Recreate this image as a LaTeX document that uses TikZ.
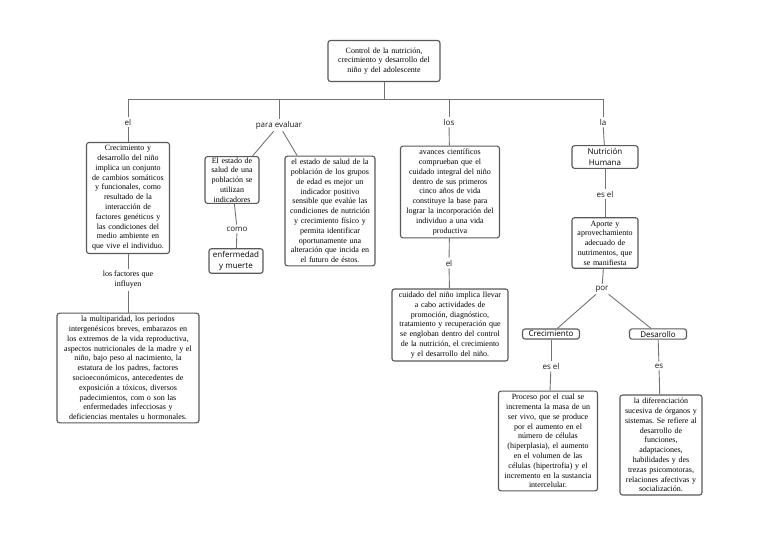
\documentclass[tikz,border=0pt]{standalone}
\usepackage{fontspec}
\setmainfont{Liberation Serif}
\newfontfamily\lblfont{Open Sans}
\frenchspacing
\begin{document}
\begin{tikzpicture}[x=1pt, y=-1pt]
	\tikzstyle{box}  = [draw=black!65, line width=1.1pt, rounded corners=2.5pt, fill=white, align=center, inner xsep=3pt, inner ysep=3pt, font=\fontsize{8}{9.8}\selectfont, text=black]
	\tikzstyle{sbox} = [box, font=\lblfont\fontsize{8}{10.5}\selectfont, inner xsep=4pt]
	\tikzstyle{lbl}  = [align=center, inner sep=2pt, font=\lblfont\fontsize{8}{10}\selectfont, text=black!90]
	\tikzstyle{conn} = [draw=black!55, line width=0.9pt]
	\useasboundingbox (0,0) rectangle (768,543);

	\node[box, text width=106pt, minimum height=41pt] (root) at (384,61) {Control de la nutrición,\\ crecimiento y desarrollo del\\ niño y del adolescente};

	\node[box, text width=77pt] (crec) at (128,198) {Crecimiento y\\ desarrollo del niño\\ implica un conjunto\\ de cambios somáticos\\ y funcionales, como\\ resultado de la\\ interacción de\\ factores genéticos y\\ las condiciones del\\ medio ambiente en\\ que vive el individuo.};
	\node[align=center, inner sep=2pt, font=\fontsize{8}{10}\selectfont] (lFact) at (128,280) {los factores que\\ influyen};
	\node[box, text width=136pt] (fact) at (128,368) {la multiparidad, los periodos\\ intergenésicos breves, embarazos en\\ los extremos de la vida reproductiva,\\ aspectos nutricionales de la madre y el\\ niño, bajo peso al nacimiento, la\\ estatura de los padres, factores\\ socioeconómicos, antecedentes de\\ exposición a tóxicos, diversos\\ padecimientos, com o son las\\ enfermedades infecciosas y\\ deficiencias mentales u hormonales.};

	\node[box, text width=48pt, inner ysep=1pt] (ind) at (232,180) {El estado de\\ salud de una\\ población se\\ utilizan\\ indicadores};
	\node[sbox] (enf) at (236,261) {enfermedad\\ y muerte};
	\node[box, text width=84pt] (pob) at (330,211) {el estado de salud de la\\ población de los grupos\\ de edad es mejor un\\ indicador positivo\\ sensible que evalúe las\\ condiciones de nutrición\\ y crecimiento físico y\\ permita identificar\\ oportunamente una\\ alteración que incida en\\ el futuro de éstos.};

	\node[box, text width=93pt] (avan) at (450,192) {avances científicos\\ comprueban que el\\ cuidado integral del niño\\ dentro de sus primeros\\ cinco años de vida\\ constituye la base para\\ lograr la incorporación del\\ individuo a una vida\\ productiva};
	\node[box, text width=110pt] (cuid) at (450,325) {cuidado del niño implica llevar\\ a cabo actividades de\\ promoción, diagnóstico,\\ tratamiento y recuperación que\\ se engloban dentro del control\\ de la nutrición, el crecimiento\\ y el desarrollo del niño.};

	\node[sbox, minimum width=66pt] (nut) at (605,157) {Nutrición\\ Humana};
	\node[box, text width=60pt] (apor) at (605,243) {Aporte y\\ aprovechamiento\\ adecuado de\\ nutrimentos, que\\ se manifiesta};
	\node[sbox, minimum width=57pt, inner ysep=2pt] (crecim) at (551,334) {Crecimiento};
	\node[sbox, minimum width=57pt, inner ysep=2pt] (desa) at (658,334) {Desarollo};
	\node[box, text width=93pt] (proc) at (548,441) {Proceso por el cual se\\ incrementa la masa de un\\ ser vivo, que se produce\\ por el aumento en el\\ número de células\\ (hiperplasia), el aumento\\ en el volumen de las\\ células (hipertrofia) y el\\ incremento en la sustancia\\ intercelular.};
	\node[box, text width=76pt] (dif) at (661,445) {la diferenciación\\ sucesiva de órganos y\\ sistemas. Se refiere al\\ desarrollo de\\ funciones,\\ adaptaciones,\\ habilidades y des\\ trezas psicomotoras,\\ relaciones afectivas y\\ socialización.};

	\foreach \name/\txt/\x/\y in {lEl/el/128/122, lEval/para evaluar/279/125, lLos/los/449/122, lLa/la/603/122, lComo/como/237/229, lElB/el/449/263, lEsel/es el/605/194, lPor/por/602/289, lEselB/es el/551/366, lEs/es/659/366}
		\node[lbl] (\name) at (\x, \y) {\txt};

	% bar under the root
	\coordinate (bar) at (384,99);
	\draw[conn] (root) -- (bar);
	\foreach \n in {lEl, lEval, lLos, lLa}
		\draw[conn] (bar) -| (\n);

	\foreach \from/\to in {lEl/crec, crec/lFact, lFact/fact, lEval/ind, lEval/pob, ind/lComo, lComo/enf, lLos/avan, avan/lElB, lElB/cuid, lLa/nut, nut/lEsel, lEsel/apor, apor/lPor, lPor/crecim, lPor/desa, crecim/lEselB, lEselB/proc, desa/lEs, lEs/dif}
		\path[conn] (\from) edge (\to);
\end{tikzpicture}
\end{document}
